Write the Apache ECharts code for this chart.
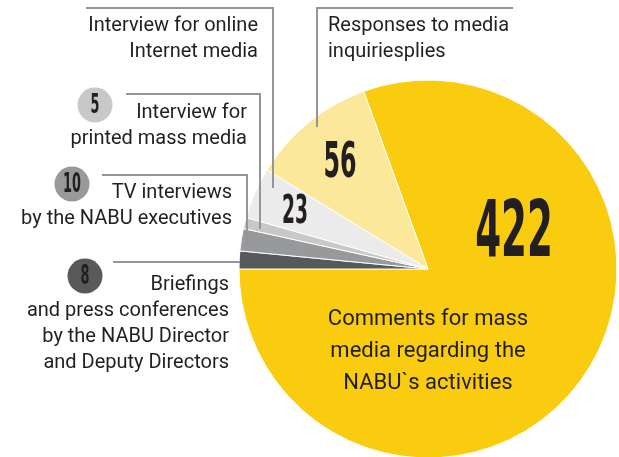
<!DOCTYPE html>
<html lang="en">
<head>
    <meta charset="UTF-8">
    <title>NABU media activity</title>
    <script src="https://cdn.jsdelivr.net/npm/echarts@6/dist/echarts.min.js"></script>
    <style>
        body { margin: 0; padding: 0; background: #fff; }
        #box { width: 619px; height: 457px; }
    </style>
</head>
<body>
<div id="box"></div>
<script>
    // data, clockwise from the top of the big slice
    var categories = [
        'Comments for mass media regarding the NABU`s activities',
        'Briefings and press conferences by the NABU Director and Deputy Directors',
        'TV interviews by the NABU executives',
        'Interview for printed mass media',
        'Interview for online Internet media',
        'Responses to media inquiriesplies'
    ];
    var values = [422, 8, 10, 5, 23, 56];
    var colors = ['#F9CC0F', '#58595B', '#98999B', '#C8C8C9', '#EBEBEB', '#FBE89A'];

    var total = values.reduce(function (a, b) { return a + b; }, 0);
    // big slice ends exactly on the left horizontal
    var startAngle = 180 + values[0] / total * 360 - 360;

    var ink = '#231F20';
    var lineGray = '#939598';
    var txtFont = '20px Roboto';
    var numFont = 'bold {s}px "DejaVu Sans Condensed"';

    function num(text, x, y, size) {
        return {
            type: 'text', x: x, y: y, scaleX: 0.53, z: 20,
            style: {
                text: text, font: numFont.replace('{s}', size), fill: ink,
                align: 'center', verticalAlign: 'middle'
            }
        };
    }
    function txt(text, x, y, align) {
        return {
            type: 'text', x: x, y: y, z: 20,
            style: {
                text: text, font: txtFont, fill: ink, align: align,
                verticalAlign: 'top', lineHeight: 26
            }
        };
    }
    function leader(points) {
        return {
            type: 'polyline', z: 15,
            shape: { points: points },
            style: { stroke: lineGray, lineWidth: 2, fill: null }
        };
    }
    function badge(text, cx, cy, color) {
        return [
            { type: 'circle', z: 18, shape: { cx: cx, cy: cy, r: 17.5 }, style: { fill: color } },
            num(text, cx, cy + 1, 27)
        ];
    }

    var myChart = echarts.init(document.getElementById('box'));
    var option = {
        animation: false,
        backgroundColor: '#fff',
        series: [{
            type: 'pie',
            center: [428, 269],
            radius: 189,
            startAngle: startAngle,
            clockwise: true,
            silent: true,
            label: { show: false },
            labelLine: { show: false },
            itemStyle: { borderColor: '#fff', borderWidth: 1 },
            data: values.map(function (v, i) {
                return { name: categories[i], value: v, itemStyle: { color: colors[i] } };
            })
        }],
        graphic: [
            // leader lines
            leader([[317, 127], [317, 8], [513, 8]]),
            leader([[273, 188], [273, 8], [86, 8]]),
            leader([[260, 229], [260, 94], [126, 94]]),
            leader([[247, 246], [247, 175], [102, 175]]),
            leader([[240, 262], [113, 262]]),
            // values inside slices
            num(String(values[0]), 514, 236, 78),
            num(String(values[5]), 340, 164, 50),
            num(String(values[4]), 295, 213, 39),
            // category texts
            txt('Responses to media\ninquiriesplies', 328, 13, 'left'),
            txt('Interview for online\nInternet media', 258, 13, 'right'),
            txt('Interview for\nprinted mass media', 247, 100, 'right'),
            txt('TV interviews\nby the NABU executives', 232, 180, 'right'),
            txt('Briefings\nand press conferences\nby the NABU Director\nand Deputy Directors', 229, 272, 'right'),
            {
                type: 'text', x: 428, y: 303, z: 20,
                style: {
                    text: 'Comments for mass\nmedia regarding the\nNABU`s activities',
                    font: '22px Roboto', fill: ink, align: 'center',
                    verticalAlign: 'top', lineHeight: 32
                }
            }
        ].concat(badge(String(values[3]), 95, 105, colors[3]))
         .concat(badge(String(values[2]), 72, 184, colors[2]))
         .concat(badge(String(values[1]), 85, 276, colors[1]))
    };
    myChart.setOption(option);
</script>
</body>
</html>
